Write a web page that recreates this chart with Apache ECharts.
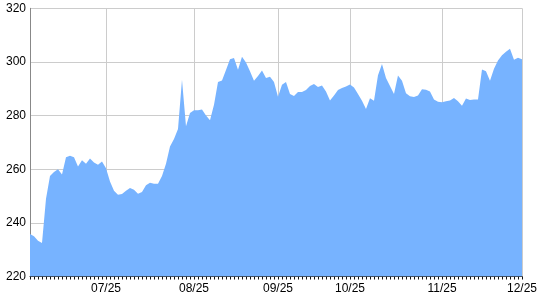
<!DOCTYPE html>
<html>
<head>
<meta charset="utf-8">
<script src="https://cdn.jsdelivr.net/npm/echarts@6/dist/echarts.min.js"></script>
<style>html,body{margin:0;padding:0;background:#fff}#c{width:540px;height:300px}</style>
</head>
<body>
<div id="c"></div>
<script>
// Series values (one per trading day)
const values = [
  235.8, 235.0, 233.3, 232.5, 249, 257.5, 259, 260, 258, 264.5,
  265, 264.5, 261, 263.3, 262, 264, 262.5, 261.7, 262.9, 260.4,
  255.4, 252, 250.5, 250.8, 252, 253, 252.3, 250.9, 251.5, 254,
  255, 254.6, 254.6, 257.5, 262, 268.5, 271.3, 275, 293.4, 276,
  281, 282, 282, 282.3, 280, 278.3, 284, 292.5, 293.1, 297,
  301, 301.5, 297.1, 301.9, 299.8, 296.5, 293, 294.8, 296.8, 294,
  294.5, 292.5, 287, 291.5, 292.5, 288, 287.3, 288.8, 288.8, 289.5,
  291, 291.8, 290.7, 291.2, 289, 285.6, 287.5, 289.5, 290.3, 290.8,
  291.6, 290.5, 288, 285.5, 282.5, 286.5, 285.5, 295, 299.2, 294,
  291, 288, 294.9, 293, 288.3, 287.2, 286.9, 287.5, 289.8, 289.6,
  289, 286, 285.2, 285, 285.3, 285.6, 286.6, 285.3, 283.7, 286.4,
  285.8, 286, 286, 297.2, 296.5, 293, 297.5, 300.5, 302.5, 303.8,
  304.9, 300.8, 301.6, 301
];
// Tick labels and the category positions where they sit
const tickLabels = ['07/25', '08/25', '09/25', '10/25', '11/25', '12/25'];
const tickIndex = [19, 41, 62, 80, 103, 123];
const yTicks = [220, 240, 260, 280, 300, 320];

const categories = values.map((v, i) => {
  const k = tickIndex.indexOf(i);
  return k >= 0 ? tickLabels[k] : 'd' + i;
});
const isTick = (i) => tickIndex.indexOf(i) >= 0;

const chart = echarts.init(document.getElementById('c'), null, {renderer: 'canvas'});
chart.setOption({
  animation: false,
  backgroundColor: '#ffffff',
  grid: {left: 30, right: 17.5, top: 8.3, bottom: 23.5, containLabel: false},
  xAxis: {
    type: 'category',
    data: categories,
    boundaryGap: false,
    axisLine: {show: true, lineStyle: {color: '#333', width: 1}},
    axisTick: {show: true, interval: 0, length: 3, lineStyle: {color: '#111'}},
    axisLabel: {
      interval: (i) => isTick(i),
      color: '#000', fontFamily: 'Liberation Sans, Arial', fontSize: 12, margin: 6,
      formatter: (v) => (v.charAt(0) === 'd' ? '' : v)
    },
    splitLine: {show: true, interval: (i) => isTick(i), lineStyle: {color: '#cccccc', width: 1}}
  },
  yAxis: {
    type: 'value',
    min: yTicks[0], max: yTicks[yTicks.length - 1], interval: 20,
    axisLine: {show: true, lineStyle: {color: '#888', width: 1}},
    axisTick: {show: false},
    axisLabel: {color: '#000', fontFamily: 'Liberation Sans, Arial', fontSize: 12, margin: 4},
    splitLine: {show: true, lineStyle: {color: '#cccccc', width: 1}}
  },
  series: [{
    type: 'line',
    data: values,
    showSymbol: false,
    symbol: 'none',
    lineStyle: {width: 0},
    areaStyle: {color: '#77b3ff', opacity: 1}
  }]
});
</script>
</body>
</html>
